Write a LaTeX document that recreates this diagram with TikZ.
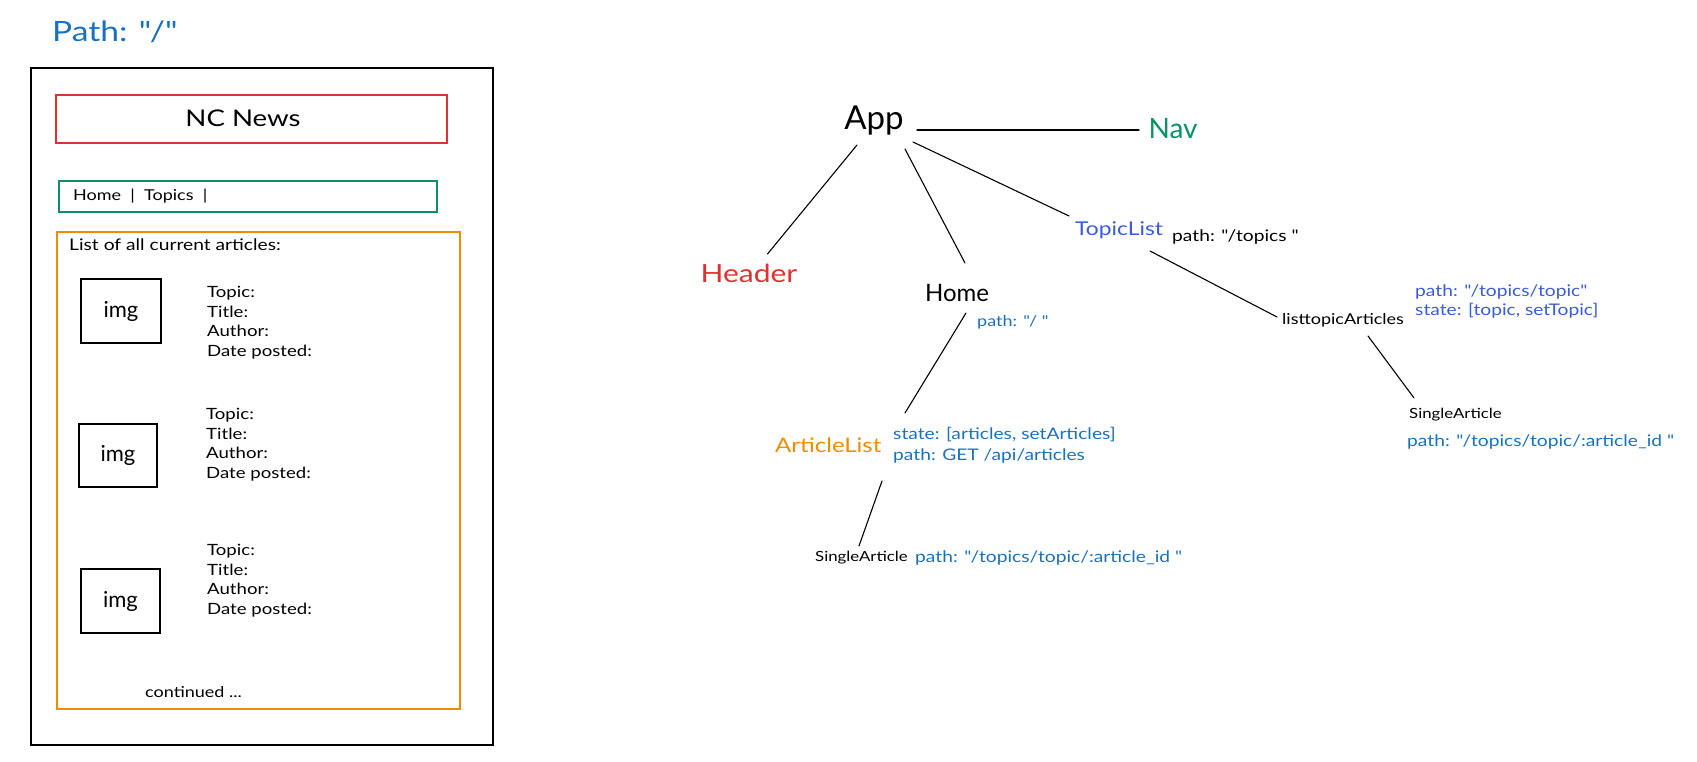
\documentclass[tikz,border=0pt]{standalone}
\usepackage{fontspec}
\setmainfont{Lato}
\newfontfamily\hand{Lato}[FakeStretch=1.2]
\newfontfamily\handn{Lato}
\usetikzlibrary{fit}
\definecolor{xblue}{HTML}{1971C2}
\definecolor{xindigo}{HTML}{3B5BDB}
\definecolor{xred}{HTML}{E03131}
\definecolor{xgreen}{HTML}{099268}
\definecolor{xorange}{HTML}{F08C00}
\newcommand{\fs}[2]{\fontsize{#1}{#2}\selectfont}

\begin{document}
\begin{tikzpicture}[x=1pt,y=-1pt,
  frame/.style={draw, line width=1.3pt, inner sep=0pt},
  lbl/.style={inner sep=0pt, anchor=west},
  meta/.style={inner sep=0pt, anchor=north west, align=left, font=\hand\fs{15.5}{19.5}},
  wire/.style={line width=1.1pt, line cap=round},
  note/.style={lbl, align=left, text=xblue, font=\hand\fs{16}{21}}]
\useasboundingbox (0,0) rectangle (1697,762);

% ---------- page wireframe ----------
\node[lbl, text=xblue, font=\hand\fs{28}{32}] (route) at (52,32) {Path: "/"};
\node[frame, line width=1.4pt, fit={(31,68) (493,745)}] (page) {};
\node[frame, draw=xred, fit={(56,95) (447,143)}] (hdrbox) {};
\node[font=\hand\fs{23}{28}] (title) at (243,118) {NC News};
\node[frame, draw=xgreen, fit={(59,181) (437,212)}] (navbox) {};
\node[lbl, font=\hand\fs{15}{18}] (navtext) at (73,196) {Home \ | \ Topics \ |};
\node[frame, draw=xorange, fit={(57,232) (460,709)}] (listbox) {};
\node[lbl, font=\hand\fs{16}{19}] (listhead) at (69,245) {List of all current articles:};

\node[frame, line width=1.5pt, fit={(81,279) (161,343)}] (img1) {};
\node[font=\handn\fs{22}{26}] (imgt1) at (img1.center) {img};
\node[meta] (meta1) at (207,286) {Topic:\\Title:\\Author:\\Date posted:};

\node[frame, line width=1.5pt, fit={(79,424) (157,487)}] (img2) {};
\node[font=\handn\fs{22}{26}] (imgt2) at (img2.center) {img};
\node[meta] (meta2) at (206,408) {Topic:\\Title:\\Author:\\Date posted:};

\node[frame, line width=1.5pt, fit={(81,569) (160,633)}] (img3) {};
\node[font=\handn\fs{22}{26}] (imgt3) at (img3.center) {img};
\node[meta] (meta3) at (207,544) {Topic:\\Title:\\Author:\\Date posted:};

\node[lbl, font=\hand\fs{15}{18}] (more) at (145,692) {continued ...};

% ---------- component tree ----------
\node[font=\handn\fs{33}{36}, inner sep=0pt] (app) at (874,121) {App};
\node[font=\handn\fs{28}{32}, text=xgreen, inner sep=0pt] (nav) at (1173,129) {Nav};
\node[font=\hand\fs{25}{28}, text=xred, inner sep=0pt] (header) at (749,273) {Header};
\node[font=\handn\fs{24}{28}, inner sep=0pt] (home) at (957,293) {Home};
\node[note, font=\hand\fs{15}{18}] (homepath) at (977,322) {path: "/ "};

\node[lbl, font=\hand\fs{19}{22}, text=xindigo] (topiclist) at (1075,230) {TopicList};
\node[lbl, font=\hand\fs{16}{19}] (topicpath) at (1172,237) {path: "/topics "};

\node[lbl, font=\hand\fs{15}{19}] (listtopic) at (1282,320) {listtopicArticles};
\node[note, text=xindigo, font=\hand\fs{16}{19}] (ltnote) at (1415,301.5) {path: "/topics/topic"\\state: [topic, setTopic]};

\node[lbl, font=\hand\fs{14}{18}] (single2) at (1409,415) {SingleArticle};
\node[note] (single2path) at (1407,442) {path: "/topics/topic/:article\_id "};

\node[lbl, font=\hand\fs{20}{24}, text=xorange] (artlist) at (775,445) {ArticleList};
\node[note] (artnote) at (893,445.5) {state: [articles, setArticles]\\path: GET /api/articles};

\node[lbl, font=\hand\fs{14}{18}] (single1) at (815,558) {SingleArticle};
\node[note] (single1path) at (915,558) {path: "/topics/topic/:article\_id "};

% ---------- connectors ----------
\draw[wire] ([shift={(43,9)}]app.center) -- ([shift={(-34,1)}]nav.center);
\draw[wire] ([shift={(-17,24)}]app.center) -- ([shift={(18.5,-19)}]header.center);
\draw[wire] ([shift={(31,28)}]app.center) -- ([shift={(8,-30)}]home.center);
\draw[wire] ([shift={(39,21)}]app.center) -- ([shift={(-6,-14)}]topiclist.west);
\draw[wire] ([shift={(75,21)}]topiclist.west) -- ([shift={(-5,-3)}]listtopic.west);
\draw[wire] ([shift={(86,16)}]listtopic.west) -- ([shift={(5,-17)}]single2.west);
\draw[wire] ([shift={(9,20)}]home.center) -- ([shift={(130,-32)}]artlist.west);
\draw[wire] ([shift={(107,36)}]artlist.west) -- ([shift={(44,-12)}]single1.west);
\end{tikzpicture}
\end{document}
